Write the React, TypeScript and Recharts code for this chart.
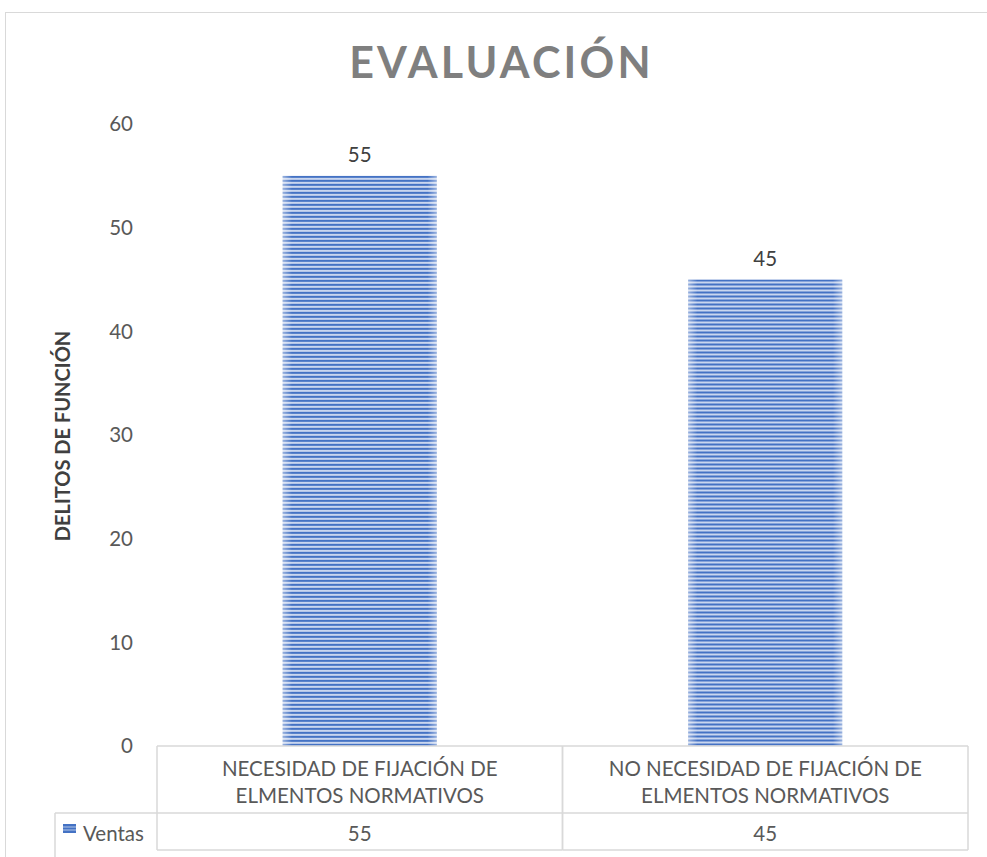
import { Bar, BarChart, LabelList, XAxis, YAxis } from "recharts";

const categoryLines = [
  ["NECESIDAD DE FIJACIÓN DE", "ELMENTOS NORMATIVOS"],
  ["NO NECESIDAD DE FIJACIÓN DE", "ELMENTOS NORMATIVOS"],
];
const ventas = [55, 45];
const yTicks = [0, 10, 20, 30, 40, 50, 60];
const seriesName = "Ventas";
const title = "EVALUACIÓN";
const yLabel = "DELITOS DE FUNCIÓN";

const data = categoryLines.map((lines, i) => ({ name: lines.join(" "), lines, ventas: ventas[i] }));

const W = 987;
const H = 857;
const M = { top: 124, right: 19, bottom: 0, left: 57 };
const Y_AXIS_W = 100;
const X_AXIS_H = 111;
const CELL_W = (W - M.left - M.right - Y_AXIS_W) / data.length;
const ROW1 = 67;
const ROW2 = 37;
const FONT = "Lato, 'Open Sans', sans-serif";
const GRID = "#d9d9d9";
const TEXT = "#595959";
const FS = 20.5;

function StripedBar(props: any) {
  const { x, y, width, height, index } = props;
  const sid = `stripes-${index}`;
  const gid = `fade-${index}`;
  return (
    <g>
      <defs>
        <pattern id={sid} patternUnits="userSpaceOnUse" width={4} height={4} y={y}>
          <rect x={0} y={0} width={4} height={4} fill="#c9d6ef" />
          <rect x={0} y={0} width={4} height={2} fill="#4472c4" />
        </pattern>
        <linearGradient id={gid} x1="0" y1="0" x2="1" y2="0">
          <stop offset="0%" stopColor="#fff" stopOpacity={0.45} />
          <stop offset="6%" stopColor="#fff" stopOpacity={0} />
          <stop offset="94%" stopColor="#fff" stopOpacity={0} />
          <stop offset="100%" stopColor="#fff" stopOpacity={0.45} />
        </linearGradient>
      </defs>
      <rect x={x} y={y} width={width} height={height} fill={`url(#${sid})`} />
      <rect x={x} y={y} width={width} height={height} fill={`url(#${gid})`} />
    </g>
  );
}

function TableTick(props: any) {
  const { x, y, index } = props;
  const d = data[index];
  const x0 = x - CELL_W / 2;
  const x1 = x + CELL_W / 2;
  return (
    <g>
      <line x1={x0} y1={y} x2={x0} y2={y + ROW1 + ROW2} stroke={GRID} strokeWidth={1.5} />
      <line x1={x1} y1={y} x2={x1} y2={y + ROW1 + ROW2} stroke={GRID} strokeWidth={1.5} />
      <line x1={x0} y1={y + ROW1} x2={x1} y2={y + ROW1} stroke={GRID} strokeWidth={1.5} />
      <line x1={x0} y1={y + ROW1 + ROW2} x2={x1} y2={y + ROW1 + ROW2} stroke={GRID} strokeWidth={1.5} />
      {d.lines.map((t, i) => (
        <text key={i} x={x} y={y + 22 + i * 27} textAnchor="middle" dominantBaseline="central"
          fontFamily={FONT} fontSize={FS} fill={TEXT}>
          {t}
        </text>
      ))}
      <text x={x} y={y + ROW1 + 20} textAnchor="middle" dominantBaseline="central"
        fontFamily={FONT} fontSize={FS} fill={TEXT}>
        {d.ventas}
      </text>
      {index === 0 && (
        <g>
          <line x1={x0 - 102} y1={y + ROW1} x2={x0} y2={y + ROW1} stroke={GRID} strokeWidth={1.5} />
          <line x1={x0 - 102} y1={y + ROW1} x2={x0 - 102} y2={H} stroke={GRID} strokeWidth={1.5} />
          <rect x={x0 - 94} y={y + ROW1 + 11} width={13} height={9} fill="#4472c4" />
          <line x1={x0 - 94} x2={x0 - 81} y1={y + ROW1 + 14} y2={y + ROW1 + 14} stroke="#b4c7e7" />
          <line x1={x0 - 94} x2={x0 - 81} y1={y + ROW1 + 17} y2={y + ROW1 + 17} stroke="#b4c7e7" />
          <text x={x0 - 74} y={y + ROW1 + 20} dominantBaseline="central"
            fontFamily={FONT} fontSize={FS} fill={TEXT}>
            {seriesName}
          </text>
        </g>
      )}
    </g>
  );
}

export default function App() {
  return (
    <div style={{ position: "relative", width: W, height: H, overflow: "hidden", background: "#fff" }}>
      <style>{`body{margin:0}`}</style>
      <div
        style={{
          position: "absolute",
          left: 5,
          top: 12,
          width: W - 5,
          height: H - 12,
          borderLeft: `1.5px solid ${GRID}`,
          borderTop: `1.5px solid ${GRID}`,
        }}
      />
      <div
        style={{
          position: "absolute",
          left: 0,
          width: W,
          top: 35,
          textAlign: "center",
          fontFamily: FONT,
          fontWeight: 700,
          fontSize: 43,
          letterSpacing: 3.2,
          color: "#7f7f7f",
          lineHeight: "54px",
          paddingLeft: 8,
        }}
      >
        {title}
      </div>
      <div
        style={{
          position: "absolute",
          left: 62,
          top: 436,
          transform: "translate(-50%, -50%) rotate(-90deg)",
          whiteSpace: "nowrap",
          fontFamily: FONT,
          fontWeight: 700,
          fontSize: 20,
          color: "#404040",
        }}
      >
        {yLabel}
      </div>
      <div style={{ position: "absolute", left: 0, top: 0 }}>
        <BarChart width={W} height={H} data={data} margin={M} barCategoryGap="31%">
          <XAxis
            dataKey="name"
            height={X_AXIS_H}
            axisLine={{ stroke: GRID, strokeWidth: 1.5 }}
            tickLine={false}
            tickSize={0}
            tickMargin={0}
            interval={0}
            tick={<TableTick />}
          />
          <YAxis
            width={Y_AXIS_W}
            domain={[0, 60]}
            ticks={yTicks}
            axisLine={false}
            tickLine={false}
            tickSize={0}
            tickMargin={24}
            tick={{ fontFamily: FONT, fontSize: FS, fill: TEXT }}
          />
          <Bar dataKey="ventas" name={seriesName} isAnimationActive={false} shape={<StripedBar />}>
            <LabelList dataKey="ventas" position="top" offset={14} fontFamily={FONT} fontSize={FS} fill="#404040" />
          </Bar>
        </BarChart>
      </div>
    </div>
  );
}
